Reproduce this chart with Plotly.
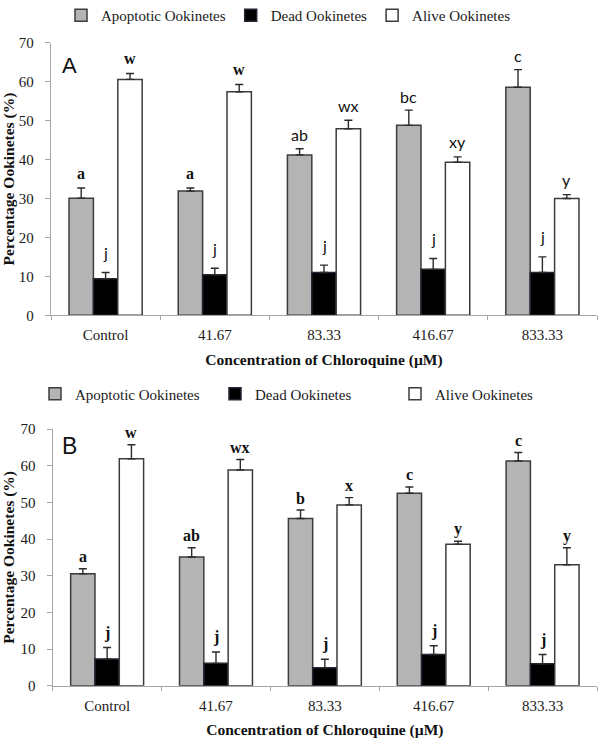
import plotly.graph_objects as go

categories = ["Control", "41.67", "83.33", "416.67", "833.33"]
series_names = ["Apoptotic Ookinetes", "Dead Ookinetes", "Alive Ookinetes"]

# Panel A
a_apoptotic = [30.1, 31.9, 41.2, 48.8, 58.6]
a_apoptotic_err = [2.6, 0.8, 1.6, 3.9, 4.5]
a_dead = [9.4, 10.4, 11.0, 11.8, 11.0]
a_dead_err = [1.6, 1.7, 1.9, 2.8, 4.0]
a_alive = [60.6, 57.4, 47.9, 39.3, 30.0]
a_alive_err = [1.5, 1.9, 2.2, 1.4, 1.0]
a_letters_apoptotic = ["a", "a", "ab", "bc", "c"]
a_letters_dead = ["j", "j", "j", "j", "j"]
a_letters_alive = ["w", "w", "wx", "xy", "y"]

# Panel B
b_apoptotic = [30.5, 35.1, 45.6, 52.5, 61.3]
b_apoptotic_err = [1.4, 2.5, 2.3, 1.7, 2.3]
b_dead = [7.3, 6.1, 4.9, 8.5, 6.0]
b_dead_err = [3.1, 3.1, 2.3, 2.4, 2.5]
b_alive = [61.9, 58.8, 49.3, 38.6, 33.0]
b_alive_err = [3.8, 2.9, 2.0, 0.8, 4.6]
b_letters_apoptotic = ["a", "ab", "b", "c", "c"]
b_letters_dead = ["j", "j", "j", "j", "j"]
b_letters_alive = ["w", "wx", "x", "y", "y"]

y_ticks = [0, 10, 20, 30, 40, 50, 60, 70]

fill_colors = ["#b4b4b4", "#000000", "#ffffff"]
line_colors = ["#3c3c3c", "#2a2233", "#3c3c3c"]
SERIF = "Liberation Serif"
BARGAP = 0.33

W, H = 600, 740


def wx(px):
    return px / W


def wy(py):
    return 1 - py / H


fig = go.Figure()

panels = [
    dict(x="x", y="y", legend="legend",
         vals=[a_apoptotic, a_dead, a_alive],
         errs=[a_apoptotic_err, a_dead_err, a_alive_err],
         letters=[a_letters_apoptotic, a_letters_dead, a_letters_alive]),
    dict(x="x2", y="y2", legend="legend2",
         vals=[b_apoptotic, b_dead, b_alive],
         errs=[b_apoptotic_err, b_dead_err, b_alive_err],
         letters=[b_letters_apoptotic, b_letters_dead, b_letters_alive]),
]

for p in panels:
    for k, name in enumerate(series_names):
        fig.add_trace(go.Bar(
            x=categories, y=p["vals"][k], name=name,
            xaxis=p["x"], yaxis=p["y"], legend=p["legend"],
            marker=dict(color=fill_colors[k], line=dict(color=line_colors[k], width=1.5)),
            error_y=dict(type="data", array=p["errs"][k], arrayminus=[0] * len(categories),
                         symmetric=False, color="#2b2b2b", thickness=1.4, width=4),
        ))

annotations = []
bar_w = (1 - BARGAP) / 3
shiftsA = [14, 20, 15]
shiftsB = [12, 15, 12]
for pi, p in enumerate(panels):
    shifts = shiftsA if pi == 0 else shiftsB
    for k in range(3):
        for i in range(len(categories)):
            if pi == 0 and not (i < 2 and k != 1):
                fam, w = "Lato", "normal"
            else:
                fam, w = SERIF, "bold"
            annotations.append(dict(
                x=i + (k - 1) * bar_w, y=p["vals"][k][i] + p["errs"][k][i],
                xref=p["x"], yref=p["y"], text=p["letters"][k][i], showarrow=False,
                yanchor="middle", yshift=shifts[k],
                font=dict(family=fam, size=16, color="#111111", weight=w),
            ))

annotations.append(dict(x=wx(60), y=wy(66), xref="paper", yref="paper", text="A",
                        showarrow=False, xanchor="left", yanchor="middle",
                        font=dict(family="Liberation Sans", size=22, color="#111111")))
annotations.append(dict(x=wx(60), y=wy(446), xref="paper", yref="paper", text="B",
                        showarrow=False, xanchor="left", yanchor="middle",
                        font=dict(family="Liberation Sans", size=23, color="#111111")))

tick_font = dict(family=SERIF, size=15, color="#1a1a1a")
title_font = dict(family=SERIF, size=15.5, color="#111111", weight="bold")
axis_line = "#a6a6a6"


def xaxis(domain, anchor):
    return dict(domain=domain, anchor=anchor, type="category", showline=True, linecolor=axis_line,
                linewidth=1.3, ticks="outside", tickson="boundaries", ticklen=4, tickcolor=axis_line,
                tickfont=tick_font, ticklabelstandoff=6, showgrid=False, zeroline=False,
                automargin=False,
                title=dict(text="Concentration of Chloroquine (\u00b5M)", font=title_font, standoff=11))


def yaxis(domain, anchor):
    return dict(domain=domain, anchor=anchor, range=[0, 70], tickvals=y_ticks, showline=True,
                linecolor=axis_line, linewidth=1.3, ticks="outside", ticklen=5, tickcolor=axis_line,
                tickfont=tick_font, ticklabelstandoff=8, showgrid=False, zeroline=False,
                automargin=False,
                title=dict(text="Percentage Ookinetes (%)", font=title_font, standoff=2))


legend_font = dict(family=SERIF, size=15, color="#1a1a1a")

fig.update_layout(
    width=W, height=H, margin=dict(l=0, r=0, t=0, b=0, autoexpand=False),
    paper_bgcolor="white", plot_bgcolor="white",
    barmode="group", bargap=BARGAP, bargroupgap=0,
    xaxis=xaxis([wx(51), wx(597)], "y"),
    yaxis=yaxis([wy(315.3), wy(42.8)], "x"),
    xaxis2=xaxis([wx(52.7), wx(597)], "y2"),
    yaxis2=yaxis([wy(685.7), wy(429)], "x2"),
    legend=dict(orientation="h", x=61 / W, y=wy(15.4), xanchor="left", yanchor="middle",
                font=legend_font, bgcolor="rgba(0,0,0,0)", traceorder="normal"),
    legend2=dict(orientation="h", x=35 / W, y=wy(394), xanchor="left", yanchor="middle",
                 font=legend_font, bgcolor="rgba(0,0,0,0)", traceorder="normal",
                 entrywidth=135, entrywidthmode="pixels"),
    annotations=annotations,
    showlegend=True,
)

fig.write_html("out.html", config={"displayModeBar": False},
               post_script="document.body.style.margin='0';")
